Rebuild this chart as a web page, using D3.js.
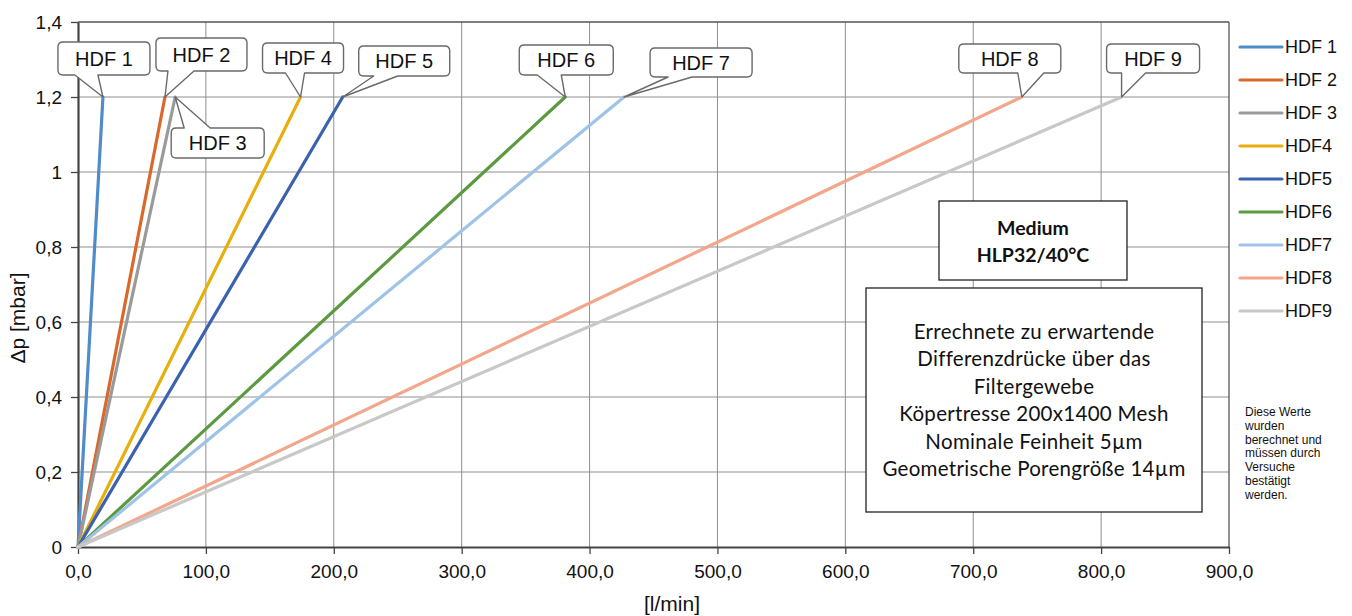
<!DOCTYPE html>
<html>
<head>
<meta charset="utf-8">
<script src="https://cdn.jsdelivr.net/npm/d3@7"></script>
<style>
  html, body { margin: 0; padding: 0; background: #fff; }
  svg { display: block; }
</style>
</head>
<body>
<svg id="chart" width="1352" height="616"></svg>
<script>
// ---- data ----
const seriesNames = ["HDF 1", "HDF 2", "HDF 3", "HDF4", "HDF5", "HDF6", "HDF7", "HDF8", "HDF9"];
const calloutNames = ["HDF 1", "HDF 2", "HDF 3", "HDF 4", "HDF 5", "HDF 6", "HDF 7", "HDF 8", "HDF 9"];
const flowAtMax = [19.5, 68, 76, 174, 207, 381, 427, 738, 816]; // l/min at 1.2 mbar
const dpMax = 1.2;
const xTicks = [0, 100, 200, 300, 400, 500, 600, 700, 800, 900];
const yTicks = [0, 0.2, 0.4, 0.6, 0.8, 1, 1.2, 1.4];
const mediumText = ["Medium", "HLP32/40°C"];
const infoText = ["Errechnete zu erwartende", "Differenzdrücke über das", "Filtergewebe",
  "Köpertresse 200x1400 Mesh", "Nominale Feinheit 5µm", "Geometrische Porengröße 14µm"];
const noteText = ["Diese Werte", "wurden", "berechnet und", "müssen durch", "Versuche", "bestätigt", "werden."];

// ---- styles / layout ----
const colors = ["#4f8cc9", "#d9692b", "#9a9a9a", "#e8ae0c", "#3b62b0", "#5c9940", "#9fc3e7", "#f2a68b", "#c8c8c8"];
// callout geometry relative to tip: box [x0,x1,y0,y1], pointer base [bx0,bx1]
const callouts = [
  {box: [-45, 47, -55, -22], base: [-28, -5]},
  {box: [-9, 82, -59, -26], base: [3, 29]},
  {box: [-4, 89, 31, 61], base: [9, 35]},
  {box: [-38, 43, -54, -24], base: [-15, 4]},
  {box: [16, 107, -51, -21], base: [31, 55]},
  {box: [-46, 48, -52, -22], base: [-28, -4]},
  {box: [26, 128, -49, -20], base: [44, 68]},
  {box: [-63, 39, -53, -24], base: [-4, 22]},
  {box: [-15, 78, -53, -24], base: [0, 24]}
];

const svg = d3.select("#chart");
const x = d3.scaleLinear().domain([0, 900]).range([78, 1229]);
const y = d3.scaleLinear().domain([0, 1.4]).range([547, 22]);
const fmtX = d => d3.format(".1f")(d).replace(".", ",");
const fmtY = d => d === 0 ? "0" : (Number.isInteger(d) ? String(d) : String(d).replace(".", ","));
const axisFont = "'Liberation Sans', Arial, sans-serif";

// grid
const grid = svg.append("g");
grid.selectAll("line.v").data(xTicks.filter(d => d > 0 && d < 900)).join("line")
  .attr("x1", d => x(d)).attr("x2", d => x(d)).attr("y1", y(0)).attr("y2", y(1.4))
  .attr("stroke", "#8f8f8f").attr("stroke-width", 1);
grid.selectAll("line.h").data(yTicks.filter(d => d > 0 && d < 1.4)).join("line")
  .attr("x1", x(0)).attr("x2", x(900)).attr("y1", d => y(d)).attr("y2", d => y(d))
  .attr("stroke", "#8f8f8f").attr("stroke-width", 1);
// top & right border
svg.append("line").attr("x1", x(0)).attr("x2", x(900)).attr("y1", y(1.4)).attr("y2", y(1.4))
  .attr("stroke", "#555").attr("stroke-width", 1.3);
svg.append("line").attr("x1", x(900)).attr("x2", x(900)).attr("y1", y(0)).attr("y2", y(1.4))
  .attr("stroke", "#555").attr("stroke-width", 1.3);

// axes
const xAxis = svg.append("g").attr("transform", `translate(0,${y(0)})`)
  .call(d3.axisBottom(x).tickValues(xTicks).tickFormat(fmtX).tickSize(7).tickSizeOuter(0));
const yAxis = svg.append("g").attr("transform", `translate(${x(0)},0)`)
  .call(d3.axisLeft(y).tickValues(yTicks).tickFormat(fmtY).tickSize(7).tickSizeOuter(0));
[xAxis, yAxis].forEach(a => {
  a.select(".domain").attr("stroke", "#444").attr("stroke-width", 2.2);
  a.selectAll(".tick line").attr("stroke", "#444").attr("stroke-width", 1.3);
  a.selectAll("text").attr("font-family", axisFont).attr("font-size", 19).attr("fill", "#111");
});
xAxis.selectAll("text").attr("dy", 0).attr("y", 31);
yAxis.selectAll("text").attr("x", -16).attr("dy", "0.36em");

// axis titles
svg.append("text").attr("x", 672).attr("y", 611).attr("text-anchor", "middle")
  .attr("font-family", axisFont).attr("font-size", 21).attr("fill", "#111").text("[l/min]");
svg.append("text").attr("transform", `translate(25,318) rotate(-90)`).attr("text-anchor", "middle")
  .attr("font-family", axisFont).attr("font-size", 21).attr("fill", "#111").text("Δp [mbar]");

// lines
const line = d3.line().x(d => x(d[0])).y(d => y(d[1]));
svg.append("g").selectAll("path").data(flowAtMax.map((v, i) => ({i, pts: [[0, 0], [v, dpMax]]})))
  .join("path").attr("d", d => line(d.pts)).attr("fill", "none")
  .attr("stroke", d => colors[d.i]).attr("stroke-width", 3.2).attr("stroke-linecap", "round");

// callouts
function calloutPath(tx, ty, c) {
  const [x0, x1, y0, y1] = c.box.map((v, k) => k < 2 ? tx + v : ty + v);
  const [b0, b1] = c.base.map(v => tx + v);
  const r = 5;
  const below = c.box[2] < 0; // box above tip, pointer on bottom edge
  let p = `M${x0 + r},${y0}`;
  if (!below) p += `L${b0},${y0}L${tx},${ty}L${b1},${y0}`;
  p += `L${x1 - r},${y0}Q${x1},${y0} ${x1},${y0 + r}L${x1},${y1 - r}Q${x1},${y1} ${x1 - r},${y1}`;
  if (below) p += `L${b1},${y1}L${tx},${ty}L${b0},${y1}`;
  p += `L${x0 + r},${y1}Q${x0},${y1} ${x0},${y1 - r}L${x0},${y0 + r}Q${x0},${y0} ${x0 + r},${y0}Z`;
  return p;
}
const cg = svg.append("g");
flowAtMax.forEach((v, i) => {
  const tx = x(v), ty = y(dpMax), c = callouts[i];
  cg.append("path").attr("d", calloutPath(tx, ty, c)).attr("fill", "#fff")
    .attr("stroke", "#6a6a6a").attr("stroke-width", 1.4).attr("stroke-linejoin", "round");
  cg.append("text").attr("x", tx + (c.box[0] + c.box[1]) / 2).attr("y", ty + (c.box[2] + c.box[3]) / 2)
    .attr("dy", "0.36em").attr("text-anchor", "middle").attr("font-family", axisFont)
    .attr("font-size", 20).attr("fill", "#111").text(calloutNames[i]);
});

// legend
const lg = svg.append("g");
seriesNames.forEach((n, i) => {
  const ly = 47 + i * 33;
  lg.append("line").attr("x1", 1240).attr("x2", 1282).attr("y1", ly).attr("y2", ly)
    .attr("stroke", colors[i]).attr("stroke-width", 3.2).attr("stroke-linecap", "round");
  lg.append("text").attr("x", 1285).attr("y", ly).attr("dy", "0.36em").attr("font-family", axisFont)
    .attr("font-size", 18).attr("fill", "#111").text(n);
});

// text boxes
const boxFont = "Lato, 'Open Sans', sans-serif";
svg.append("rect").attr("x", 939).attr("y", 201).attr("width", 188).attr("height", 79)
  .attr("fill", "#fff").attr("stroke", "#222").attr("stroke-width", 1.3);
mediumText.forEach((t, i) => svg.append("text").attr("x", 1033).attr("y", 235 + i * 27)
  .attr("text-anchor", "middle").attr("font-family", boxFont).attr("font-weight", "bold")
  .attr("font-size", 19.5).attr("fill", "#111").text(t));
svg.append("rect").attr("x", 866).attr("y", 288).attr("width", 336).attr("height", 224)
  .attr("fill", "#fff").attr("stroke", "#222").attr("stroke-width", 1.3);
infoText.forEach((t, i) => svg.append("text").attr("x", 1034).attr("y", 339 + i * 27.4)
  .attr("text-anchor", "middle").attr("font-family", boxFont).attr("letter-spacing", 0.3)
  .attr("font-size", 20.5).attr("fill", "#111").text(t));

// note
noteText.forEach((t, i) => svg.append("text").attr("x", 1245).attr("y", 416 + i * 13.8)
  .attr("font-family", axisFont).attr("font-size", 12).attr("fill", "#111").text(t));
</script>
</body>
</html>
